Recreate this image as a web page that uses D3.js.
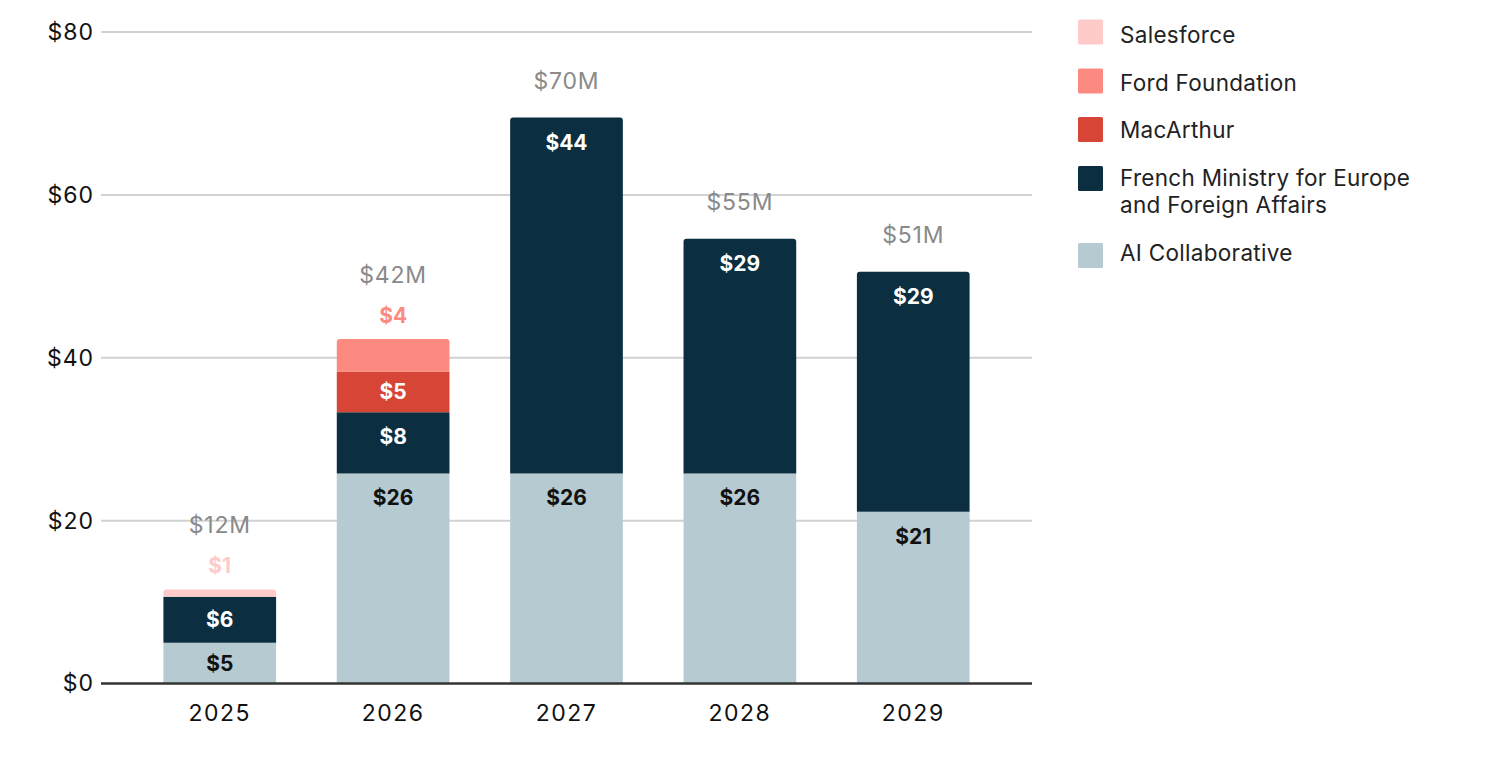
<html>
<head>
<script src="https://d3js.org/d3.v7.min.js"></script>
<style>
  body { margin: 0; background: #fff; }
  text { font-family: Inter, "Noto Sans", sans-serif; }
</style>
</head>
<body>
<div id="chart"></div>
<script>
// years on the x axis
var years = ["2025", "2026", "2027", "2028", "2029"];

// funders, bottom of the stack first
var funders = ["AI Collaborative", "French Ministry for Europe and Foreign Affairs", "MacArthur", "Ford Foundation", "Salesforce"];
var funderColors = ["#b6cad2", "#0b2e40", "#d64535", "#fd8a80", "#fecaca"];

// values in $M
var aiCollab = [5.0, 25.8, 25.8, 25.8, 21.1];
var frenchMinistry = [5.65, 7.5, 43.7, 28.8, 29.45];
var macArthur = [0, 5.0, 0, 0, 0];
var fordFoundation = [0, 4.0, 0, 0, 0];
var salesforce = [0.9, 0, 0, 0, 0];

var yTicks = [0, 20, 40, 60, 80];

var series = [aiCollab, frenchMinistry, macArthur, fordFoundation, salesforce];

var width = 1500, height = 759;
var svg = d3.select("#chart").append("svg")
  .attr("width", width)
  .attr("height", height);

var x = d3.scaleBand().domain(years).range([101, 1032]).paddingInner(0.35).paddingOuter(0.36);
var y = d3.scaleLinear().domain([0, 80]).range([683.5, 32]);

// gridlines
svg.append("g").selectAll("line").data(yTicks.filter(function(d){ return d > 0; })).enter()
  .append("line")
  .attr("x1", 101).attr("x2", 1032)
  .attr("y1", function(d){ return y(d); }).attr("y2", function(d){ return y(d); })
  .attr("stroke", "#d2d2d2").attr("stroke-width", 2);

// y axis labels
var yAxis = svg.append("g").attr("transform", "translate(94,0)")
  .call(d3.axisLeft(y).tickValues(yTicks).tickSize(0).tickPadding(0).tickFormat(function(d){ return "$" + d; }));
yAxis.select(".domain").remove();
yAxis.selectAll("text").attr("font-size", 23).attr("fill", "#111")
  .style("font-family", "Inter, sans-serif").style("letter-spacing", "1px");

// build stacked data
var table = years.map(function(yr, i) {
  var row = { year: yr };
  funders.forEach(function(f, k){ row[f] = series[k][i]; });
  return row;
});
var stacked = d3.stack().keys(funders)(table);

function topRounded(x0, y0, w, h, r) {
  r = Math.min(r, h);
  return "M" + x0 + "," + (y0 + h) + "V" + (y0 + r) + "Q" + x0 + "," + y0 + " " + (x0 + r) + "," + y0 +
    "H" + (x0 + w - r) + "Q" + (x0 + w) + "," + y0 + " " + (x0 + w) + "," + (y0 + r) + "V" + (y0 + h) + "Z";
}

// find top series index for each year
var topIndex = years.map(function(yr, i) {
  var t = 0;
  series.forEach(function(s, k){ if (s[i] > 0) t = k; });
  return t;
});

var bars = svg.append("g");
stacked.forEach(function(layer, k) {
  bars.selectAll(null).data(layer.filter(function(d){ return d[1] - d[0] > 0; })).enter()
    .append("path")
    .attr("fill", funderColors[k])
    .attr("d", function(d) {
      var i = years.indexOf(d.data.year);
      var x0 = x(d.data.year), w = x.bandwidth();
      var y0 = y(d[1]), h = y(d[0]) - y(d[1]);
      return topRounded(x0, y0, w, h, topIndex[i] === k ? 3 : 0);
    });
});

// segment labels
var outsideKeys = ["Ford Foundation", "Salesforce"];
var labels = svg.append("g");
stacked.forEach(function(layer, k) {
  var key = funders[k];
  layer.forEach(function(d, i) {
    var v = series[k][i];
    if (v <= 0) return;
    var cx = x(d.data.year) + x.bandwidth() / 2;
    var ly, col;
    if (outsideKeys.indexOf(key) >= 0) {
      ly = y(d[1]) - 24;
      col = funderColors[k];
    } else {
      var center = (y(d[0]) + y(d[1])) / 2;
      ly = Math.min(center, y(d[1]) + 24.5);
      col = k === 0 ? "#111" : "#fff";
    }
    labels.append("text")
      .attr("x", cx).attr("y", ly)
      .attr("text-anchor", "middle").attr("dominant-baseline", "central")
      .attr("font-size", 21).attr("font-weight", 700)
      .attr("fill", col)
      .text("$" + Math.round(v));
  });
});

// totals
var totals = years.map(function(yr, i) {
  return d3.sum(series, function(s){ return s[i]; });
});
var hasOutside = years.map(function(yr, i) {
  return fordFoundation[i] > 0 || salesforce[i] > 0;
});
svg.append("g").selectAll("text").data(years).enter()
  .append("text")
  .attr("x", function(d){ return x(d) + x.bandwidth() / 2; })
  .attr("y", function(d, i){ return y(totals[i]) - 37 - (hasOutside[i] ? 27 : 0); })
  .attr("text-anchor", "middle").attr("dominant-baseline", "central")
  .attr("font-size", 23).attr("fill", "#8a8a8a").style("letter-spacing", "0.8px")
  .text(function(d, i){ return "$" + Math.round(totals[i]) + "M"; });

// baseline
svg.append("line")
  .attr("x1", 101).attr("x2", 1032)
  .attr("y1", y(0)).attr("y2", y(0))
  .attr("stroke", "#333").attr("stroke-width", 2.5);

// x axis labels
var xAxis = svg.append("g").attr("transform", "translate(0," + (y(0) + 21) + ")")
  .call(d3.axisBottom(x).tickSize(0).tickPadding(0));
xAxis.select(".domain").remove();
xAxis.selectAll("text").attr("font-size", 23).attr("fill", "#111").attr("dy", "0.71em")
  .style("font-family", "Inter, sans-serif").style("letter-spacing", "1.5px");

// legend, top entry first
var legendItems = funders.slice().reverse();
var legendColors = funderColors.slice().reverse();
var legendY = [32, 81, 129.5, 178.5, 255.5];
var textY = [34, 82, 129, 177, 252];
var legendLines = {
  "French Ministry for Europe and Foreign Affairs": ["French Ministry for Europe", "and Foreign Affairs"]
};
var legend = svg.append("g");
legendItems.forEach(function(name, i) {
  legend.append("rect")
    .attr("x", 1078).attr("y", legendY[i] - 12.5)
    .attr("width", 25).attr("height", 25).attr("rx", 1.5)
    .attr("fill", legendColors[i]);
  var lines = legendLines[name] || [name];
  var t = legend.append("text")
    .attr("x", 1120).attr("y", textY[i])
    .attr("font-size", 22.5).attr("fill", "#222").style("letter-spacing", "0.3px")
    .attr("dominant-baseline", "central");
  lines.forEach(function(line, j) {
    t.append("tspan").attr("x", 1120).attr("dy", j === 0 ? 0 : 27).text(line);
  });
});
</script>
</body>
</html>
